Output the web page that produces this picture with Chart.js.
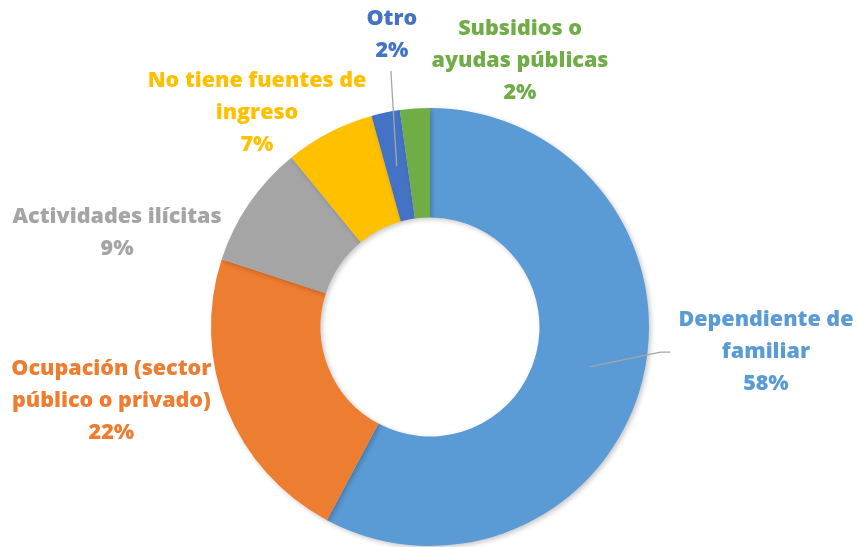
<!DOCTYPE html>
<html>
<head>
<meta charset="utf-8">
<script src="https://cdn.jsdelivr.net/npm/chart.js@4.4.1/dist/chart.umd.min.js"></script>
<style>
  html, body { margin: 0; padding: 0; background: #ffffff; }
  #wrap { width: 857px; height: 547px; position: relative; }
</style>
</head>
<body>
<div id="wrap"><canvas id="incomeChart"></canvas></div>
<script>
// Fuente de ingresos
const categories = [
  ["Dependiente de", "familiar"],
  ["Ocupación (sector", "público o privado)"],
  ["Actividades ilícitas"],
  ["No tiene fuentes de", "ingreso"],
  ["Otro"],
  ["Subsidios o", "ayudas públicas"],
];
const shares = [57.8, 22.2, 9.1, 6.6, 2.1, 2.2];
const pctLabels = ["58%", "22%", "9%", "7%", "2%", "2%"];
const sliceColors = ["#5B9BD5", "#ED7D31", "#A5A5A5", "#FFC000", "#4472C4", "#70AD47"];

// label placement relative to center, in units of outer radius
const labelSpots = [
  { x: 1.534, y: 0.115, leader: "left" },
  { x: -1.455, y: 0.338 },
  { x: -1.429, y: -0.432 },
  { x: -0.790, y: -0.976 },
  { x: -0.174, y: -1.333, leader: "bottom" },
  { x: 0.411, y: -1.214 },
];

const FONT = "800 21.5px 'Open Sans', Lato, sans-serif";
const LINE_H = 32;

// soft shadow under the ring
const shadowPlugin = {
  id: "ringShadow",
  beforeDatasetsDraw(chart) {
    const ctx = chart.ctx;
    ctx.save();
    ctx.shadowColor = "rgba(0,0,0,0.22)";
    ctx.shadowBlur = 5;
    ctx.shadowOffsetX = 2;
    ctx.shadowOffsetY = 2;
  },
  afterDatasetsDraw(chart) {
    chart.ctx.restore();
  },
};

const labelPlugin = {
  id: "sliceLabels",
  afterDraw(chart) {
    const ctx = chart.ctx;
    const meta = chart.getDatasetMeta(0);
    const first = meta.data[0];
    const cx = first.x;
    const cy = first.y;
    const r = first.outerRadius;

    ctx.save();
    ctx.font = FONT;
    ctx.textAlign = "center";
    ctx.textBaseline = "middle";

    meta.data.forEach((arc, i) => {
      const spot = labelSpots[i];
      const lines = categories[i].concat([pctLabels[i]]);
      const ax = cx + spot.x * r;
      const ay = cy + spot.y * r;
      const top = ay - ((lines.length - 1) * LINE_H) / 2;

      if (spot.leader) {
        const p = arc.tooltipPosition();
        ctx.strokeStyle = "#A6A6A6";
        ctx.lineWidth = 1.3;
        ctx.beginPath();
        if (spot.leader === "bottom") {
          const by = top + (lines.length - 1) * LINE_H + 20;
          ctx.moveTo(p.x, p.y);
          ctx.lineTo(ax - 1, by);
        } else {
          const w = Math.max(...lines.map((l) => ctx.measureText(l).width));
          const lx = ax - w / 2 - 8;
          ctx.moveTo(p.x, p.y);
          ctx.lineTo(lx - 10, ay);
          ctx.lineTo(lx, ay);
        }
        ctx.stroke();
      }

      ctx.fillStyle = sliceColors[i];
      lines.forEach((line, j) => {
        ctx.fillText(line, ax, top + j * LINE_H);
      });
    });
    ctx.restore();
  },
};

new Chart(document.getElementById("incomeChart"), {
  type: "doughnut",
  data: {
    labels: categories.map((c) => c.join(" ")),
    datasets: [
      {
        data: shares,
        backgroundColor: sliceColors,
        borderWidth: 0,
      },
    ],
  },
  options: {
    responsive: true,
    maintainAspectRatio: false,
    animation: false,
    cutout: "50%",
    layout: { padding: { top: 108, bottom: 1, left: 3, right: 0 } },
    plugins: {
      legend: { display: false },
      tooltip: { enabled: false },
    },
  },
  plugins: [shadowPlugin, labelPlugin],
});
</script>
</body>
</html>
